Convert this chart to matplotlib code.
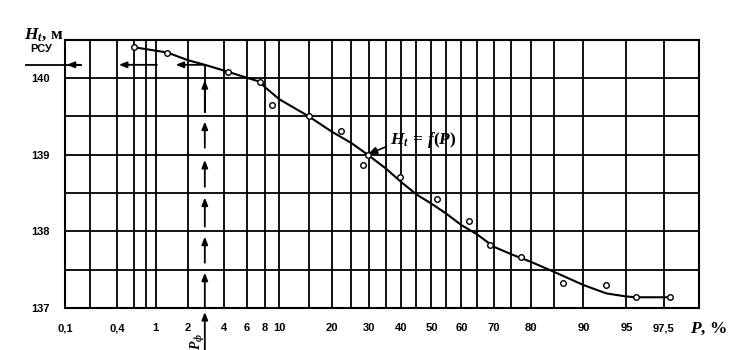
import numpy as np
import matplotlib
matplotlib.use("Agg")
import matplotlib.pyplot as plt
from statistics import NormalDist

# ---------------- data ----------------
# observed points: exceedance probability P, % and level H_t, m
p_obs = [0.6, 1.3, 4.3, 7.4, 9.0, 15, 22.2, 28.3, 29.5, 39.5, 52, 62.5, 69, 77.5, 86.6, 93.0, 95.75, 97.8]
h_obs = [140.40, 140.33, 140.08, 139.95, 139.65, 139.50, 139.31, 138.87, 139.00, 138.71,
         138.42, 138.13, 137.82, 137.66, 137.33, 137.30, 137.14, 137.14]

# fitted curve H_t = f(P)
p_curve = [0.6, 1.3, 2.0, 2.8, 4.3, 6, 7.4, 8, 10, 15, 20, 25, 29.5, 35, 40, 45, 50,
           55, 60, 65, 70, 75, 80, 85, 90, 93, 95, 95.75, 97.8]
h_curve = [140.40, 140.33, 140.23, 140.17, 140.08, 140.00, 139.95, 139.88, 139.72, 139.50,
           139.30, 139.15, 139.00, 138.82, 138.64, 138.48, 138.36, 138.23, 138.08, 137.96,
           137.80, 137.70, 137.60, 137.47, 137.30, 137.19, 137.15, 137.14, 137.14]

# probability paper grid
p_grid = [0.1, 0.2, 0.4, 0.6, 0.8, 1, 2, 4, 6, 8, 10, 15, 20, 25, 30, 35, 40, 45, 50,
          55, 60, 65, 70, 75, 80, 85, 90, 95, 97.5]
p_labels = {0.1: "0,1", 0.4: "0,4", 1: "1", 2: "2", 4: "4", 6: "6", 8: "8", 10: "10",
            20: "20", 30: "30", 40: "40", 50: "50", 60: "60", 70: "70", 80: "80",
            90: "90", 95: "95", 97.5: "97,5"}
h_grid = [137, 137.5, 138, 138.5, 139, 139.5, 140, 140.5]
h_labels = {137: "137", 138: "138", 139: "139", 140: "140"}

h_rsu = 140.17   # РСУ level
p_f = 2.8        # P_ф read on the curve

# ---------------- probability scale ----------------
_nd = NormalDist()
_ppf = np.vectorize(_nd.inv_cdf, otypes=[float])
_cdf = np.vectorize(_nd.cdf, otypes=[float])


def to_z(p):
    p = np.clip(np.asarray(p, float) / 100.0, 1e-9, 1 - 1e-9)
    return _ppf(p)


def from_z(z):
    return _cdf(np.asarray(z, float)) * 100.0


plt.rcParams["font.family"] = ["Liberation Sans", "DejaVu Sans"]
plt.rcParams["mathtext.fontset"] = "custom"
plt.rcParams["mathtext.it"] = "Liberation Serif:italic:bold"
plt.rcParams["mathtext.rm"] = "Liberation Serif:bold"
plt.rcParams["mathtext.bf"] = "Liberation Serif:bold"

fig = plt.figure(figsize=(7.39, 3.5), dpi=100)
ax = fig.add_axes([65 / 739, 42 / 350, 634 / 739, 268.5 / 350])

ax.set_xscale("function", functions=(to_z, from_z))
ax.set_xlim(0.1, 98.8)
ax.set_ylim(137, 140.5)

ax.set_xticks(p_grid, [p_labels.get(p, "") for p in p_grid])
ax.set_yticks(h_grid, [h_labels.get(h, "") for h in h_grid])
ax.tick_params(length=0, labelsize=8, pad=11)
for lab in ax.get_xticklabels() + ax.get_yticklabels():
    lab.set_fontweight("bold")
ax.grid(True, color="black", lw=1.3)
for s in ax.spines.values():
    s.set_linewidth(1.5)

# curve and points
ax.plot(p_curve, h_curve, color="black", lw=1.5, zorder=3)
ax.plot(p_obs, h_obs, ls="none", marker="o", ms=4, mfc="white", mec="black", mew=1, zorder=4)

arrow = dict(arrowstyle="-|>,head_length=0.45,head_width=0.18", color="black", lw=1.3,
             shrinkA=0, shrinkB=0)

# horizontal dashed arrows from the curve to the РСУ mark
for tail, head in [(p_f, 1.55), (1.03, 0.42), (0.155, 0.105)]:
    ax.annotate("", xy=(head, h_rsu), xytext=(tail, h_rsu), arrowprops=arrow,
                annotation_clip=False)
ax.plot([0.031, 0.155], [h_rsu, h_rsu], color="black", lw=1.3, clip_on=False)

# vertical dashed arrows from P_ф up to the curve
ax.plot([p_f, p_f], [139.56, h_rsu], color="black", lw=1.3)
for tail, head in [(139.56, 139.97), (139.09, 139.43), (138.58, 138.93),
                   (138.06, 138.44), (137.59, 137.93), (137.01, 137.46)]:
    ax.annotate("", xy=(p_f, head), xytext=(p_f, tail), arrowprops=arrow)
ax.annotate("", xy=(p_f, -0.015), xytext=(p_f, -0.16),
            xycoords=("data", "axes fraction"), textcoords=("data", "axes fraction"),
            arrowprops=arrow, annotation_clip=False)

# texts
ax.annotate(r"$P_ф$", xy=(p_f, 0), xycoords=("data", "axes fraction"),
            xytext=(-5, -24), textcoords="offset points", rotation=90,
            ha="center", va="center", fontsize=10, family="Liberation Serif",
            fontweight="bold", annotation_clip=False)
ax.annotate("РСУ", xy=(0, h_rsu), xycoords=("axes fraction", "data"),
            xytext=(-17, 9), textcoords="offset points", ha="center", va="baseline",
            fontsize=8, fontweight="bold", annotation_clip=False)
ax.annotate(r"$H_t$, м", xy=(0, 1), xycoords="axes fraction", xytext=(-1, 1),
            textcoords="offset points", ha="right", va="baseline", fontsize=12.5,
            family="Liberation Serif", fontweight="bold", annotation_clip=False)
ax.annotate(r"$P$, %", xy=(1, 0), xycoords="axes fraction", xytext=(-6.5, -18),
            textcoords="offset points", ha="left", va="baseline", fontsize=12.5,
            family="Liberation Serif", fontweight="bold", annotation_clip=False)
ax.annotate(r"$H_t\,=\,f(P)$", xy=(29.5, 139.0), xytext=(36.5, 139.14),
            ha="left", va="baseline", fontsize=12.5, family="Liberation Serif",
            fontweight="bold",
            arrowprops=dict(arrowstyle="-|>,head_length=0.45,head_width=0.18",
                            color="black", lw=1.2, shrinkA=1, shrinkB=0, relpos=(0, 0.25)))

fig.savefig("out.png", dpi=100)
